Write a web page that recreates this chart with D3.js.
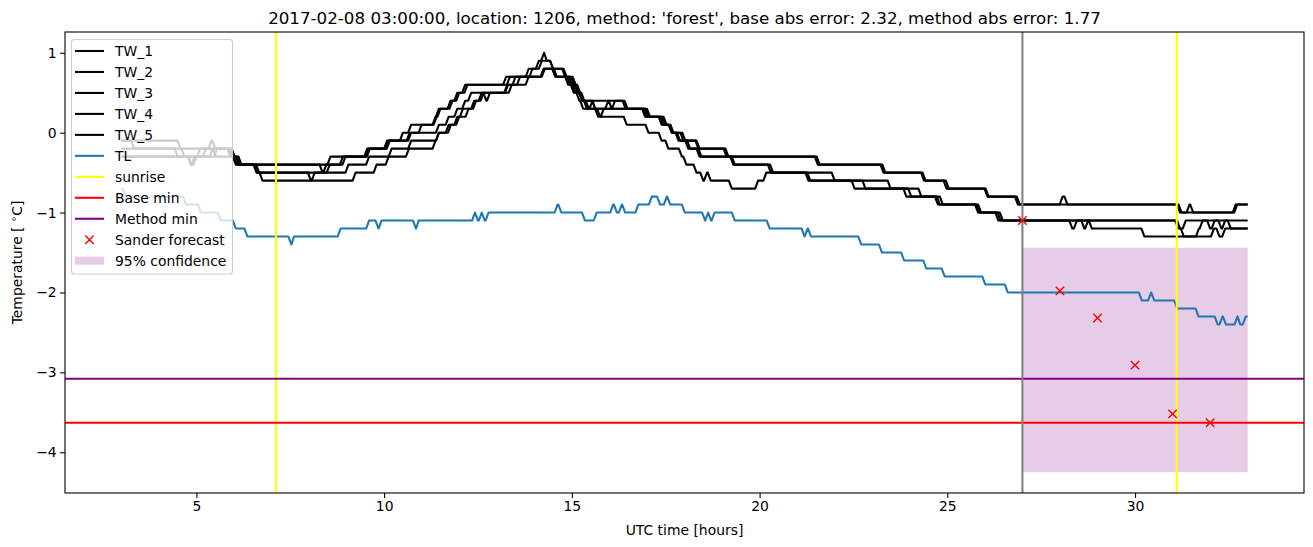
<!DOCTYPE html>
<html><head><meta charset="utf-8">
<script src="https://cdn.jsdelivr.net/npm/d3@7"></script>
<style>body{margin:0;background:#fff} svg{display:block} text{font-family:"DejaVu Sans",sans-serif;fill:#000}</style>
</head><body><svg id="c" width="1313" height="547"></svg>
<script>
// ---------------- data ----------------
const TITLE = "2017-02-08 03:00:00, location: 1206, method: 'forest', base abs error: 2.32, method abs error: 1.77";
const X_LABEL = "UTC time [hours]";
const xTicks = [5, 10, 15, 20, 25, 30];
const yTicks = [-4, -3, -2, -1, 0, 1];
const xDomain = [1.5, 34.5];
const yDomain = [-4.51, 1.26];

// change points [hour, value]; value holds until next change point
const TW_1 = [[3.0,-0.1],[4.58,-0.2],[5.4,-0.1],[5.5,-0.2],[5.95,-0.3],[6.08,-0.4],[8.36,-0.5],[8.46,-0.4],[8.57,-0.3],[9.59,-0.2],[10.08,-0.1],[10.5,0.0],[10.72,0.1],[11.37,0.2],[11.46,0.3],[11.77,0.4],[11.95,0.5],[12.16,0.6],[13.25,0.7],[13.85,0.8],[14.12,0.9],[14.26,1.0],[14.33,0.9],[14.5,0.8],[14.82,0.7],[15.05,0.6],[15.18,0.5],[15.27,0.4],[16.43,0.3],[17.04,0.2],[17.39,0.1],[17.66,0.0],[18.02,-0.1],[18.4,-0.2],[19.12,-0.3],[21.55,-0.4],[23.3,-0.5],[24.38,-0.6],[24.98,-0.7],[26.07,-0.8],[26.88,-0.9],[28.07,-0.8],[28.2,-0.9],[31.2,-1.0],[31.45,-0.9],[31.55,-1.0],[32.68,-0.9],[33.0,-0.9]];
const TW_2 = [[3.0,-0.1],[3.34,-0.2],[4.68,-0.3],[5.1,-0.2],[5.98,-0.3],[6.13,-0.4],[8.9,-0.3],[9.55,-0.2],[10.12,-0.1],[10.72,0.0],[11.0,0.1],[11.4,0.2],[11.5,0.3],[11.82,0.4],[12.0,0.5],[12.22,0.6],[13.35,0.7],[13.95,0.8],[14.2,0.9],[14.5,0.8],[14.86,0.7],[15.1,0.6],[15.22,0.5],[15.3,0.4],[15.62,0.3],[15.75,0.2],[15.85,0.3],[15.97,0.4],[16.06,0.3],[16.15,0.4],[16.48,0.3],[17.08,0.2],[17.43,0.1],[17.7,0.0],[17.97,-0.1],[18.37,-0.2],[19.17,-0.3],[21.6,-0.4],[23.35,-0.5],[24.42,-0.6],[25.04,-0.7],[26.1,-0.8],[26.93,-0.9],[31.24,-1.0],[32.72,-0.9],[33.0,-0.9]];
const TW_3 = [[3.0,-0.3],[4.87,-0.4],[5.0,-0.3],[5.25,-0.2],[5.9,-0.3],[6.05,-0.4],[6.62,-0.5],[8.05,-0.6],[8.15,-0.5],[8.55,-0.4],[8.97,-0.3],[9.62,-0.2],[10.15,-0.1],[10.68,0.0],[11.46,0.1],[11.72,0.2],[11.95,0.3],[12.16,0.4],[12.32,0.5],[13.3,0.6],[13.5,0.7],[14.25,0.8],[14.56,0.7],[14.95,0.6],[15.1,0.5],[15.3,0.4],[15.4,0.3],[16.95,0.2],[17.48,0.1],[17.66,0.0],[17.84,-0.1],[18.15,-0.2],[18.4,-0.3],[19.3,-0.4],[20.3,-0.5],[21.3,-0.6],[22.53,-0.7],[23.91,-0.8],[24.75,-0.9],[25.82,-1.0],[26.36,-1.1],[31.2,-1.2],[31.35,-1.1],[32.0,-1.2],[32.12,-1.1],[33.0,-1.1]];
const TW_4 = [[3.0,-0.2],[4.5,-0.3],[5.55,-0.2],[6.02,-0.3],[6.2,-0.4],[6.67,-0.5],[9.05,-0.4],[9.6,-0.3],[10.2,-0.2],[10.72,-0.1],[11.46,0.0],[11.78,0.1],[12.0,0.2],[12.25,0.3],[12.45,0.4],[12.6,0.5],[12.72,0.4],[12.82,0.5],[13.4,0.6],[13.62,0.7],[14.28,0.8],[14.6,0.7],[15.0,0.6],[15.15,0.5],[15.33,0.4],[15.45,0.3],[15.55,0.4],[15.62,0.3],[16.99,0.2],[17.52,0.1],[17.7,0.0],[17.88,-0.1],[18.1,-0.2],[18.45,-0.3],[19.34,-0.4],[20.36,-0.5],[21.35,-0.6],[22.82,-0.7],[24.04,-0.8],[24.8,-0.9],[25.86,-1.0],[26.42,-1.1],[28.33,-1.2],[28.45,-1.1],[31.15,-1.2],[31.3,-1.3],[31.7,-1.2],[31.8,-1.1],[32.3,-1.2],[32.4,-1.1],[32.55,-1.2],[33.0,-1.2]];
const TW_5 = [[3.0,-0.3],[4.85,-0.4],[4.95,-0.3],[5.43,-0.2],[5.52,-0.3],[6.15,-0.4],[6.6,-0.5],[6.76,-0.6],[9.24,-0.5],[9.8,-0.4],[10.12,-0.3],[10.66,-0.2],[11.37,-0.1],[11.46,0.0],[11.72,0.1],[11.95,0.2],[12.1,0.3],[12.4,0.4],[12.65,0.5],[13.28,0.6],[13.85,0.7],[14.25,0.8],[14.56,0.7],[14.9,0.6],[15.05,0.5],[15.2,0.4],[15.3,0.3],[15.7,0.2],[16.46,0.1],[17.04,0.0],[17.39,-0.1],[17.57,-0.2],[17.93,-0.3],[18.05,-0.4],[18.32,-0.5],[18.5,-0.6],[18.6,-0.5],[18.7,-0.6],[19.26,-0.7],[19.96,-0.6],[20.18,-0.5],[22.0,-0.6],[23.49,-0.7],[24.31,-0.8],[24.88,-0.9],[25.9,-1.0],[26.48,-1.1],[28.65,-1.2],[28.75,-1.1],[28.85,-1.2],[30.25,-1.3],[32.1,-1.2],[32.25,-1.3],[32.4,-1.2],[33.0,-1.2]];
const TL = [[3.0,-0.7],[3.12,-0.8],[4.72,-0.9],[5.12,-1.0],[5.65,-1.1],[6.05,-1.2],[6.36,-1.3],[7.53,-1.4],[7.6,-1.3],[8.84,-1.2],[9.6,-1.1],[9.85,-1.2],[9.93,-1.1],[10.85,-1.2],[10.92,-1.1],[12.42,-1.0],[12.5,-1.1],[12.6,-1.0],[12.68,-1.1],[12.78,-1.0],[14.62,-0.9],[14.72,-1.0],[15.35,-1.1],[15.66,-1.0],[16.1,-0.9],[16.2,-1.0],[16.33,-0.9],[16.42,-1.0],[16.77,-0.9],[17.13,-0.8],[17.35,-0.9],[17.53,-0.8],[17.62,-0.9],[18.01,-1.0],[18.55,-1.1],[18.63,-1.0],[18.71,-1.1],[18.8,-1.0],[19.34,-1.1],[20.27,-1.2],[21.2,-1.3],[21.28,-1.2],[21.37,-1.3],[22.71,-1.4],[23.26,-1.5],[23.85,-1.6],[24.44,-1.7],[24.93,-1.8],[26.01,-1.9],[26.61,-2.0],[30.18,-2.1],[30.43,-2.0],[30.51,-2.1],[31.12,-2.2],[31.69,-2.3],[32.2,-2.4],[32.33,-2.3],[32.42,-2.4],[32.73,-2.3],[32.8,-2.4],[32.95,-2.3],[33.0,-2.3]];

const sunriseHours = [7.12, 31.11];
const forecastStartHour = 27;
const baseMin = -3.63;
const methodMin = -3.08;
const forecastHours = [27, 28, 29, 30, 31, 32];
const forecastValues = [-1.1, -1.98, -2.32, -2.91, -3.52, -3.63];
const confHours = [27, 33];
const confLow = -4.25, confHigh = -1.44;

const legendLabels = ["TW_1","TW_2","TW_3","TW_4","TW_5","TL","sunrise","Base min","Method min","Sander forecast","95% confidence"];

// ---------------- drawing ----------------
const svg = d3.select("#c");
const L = 65, R = 1304, T = 32, B = 493;
const x = d3.scaleLinear(xDomain, [L, R]);
const y = d3.scaleLinear(yDomain, [B, T]);
const LW = 2.08;

// step curve with a short ramp at each change (as sampled data looks)
const RAMP = 3;
function RampStep(ctx){ this._context = ctx; }
RampStep.prototype = {
  areaStart(){}, areaEnd(){},
  lineStart(){ this._p = 0; },
  lineEnd(){},
  point(px, py){
    if (this._p === 0) { this._context.moveTo(px, py); this._p = 1; }
    else {
      const xr = Math.max(this._x, px - RAMP);
      this._context.lineTo(xr, this._y);
      this._context.lineTo(px, py);
    }
    this._x = px; this._y = py;
  }
};
const curveRamp = ctx => new RampStep(ctx);
const line = d3.line().x(d => x(d[0])).y(d => y(d[1])).curve(curveRamp);

svg.append("defs").append("clipPath").attr("id","clip")
  .append("rect").attr("x", L).attr("y", T).attr("width", R - L).attr("height", B - T);
const plot = svg.append("g").attr("clip-path", "url(#clip)");

// confidence (patch, below lines)
plot.append("rect")
  .attr("x", x(confHours[0])).attr("width", x(confHours[1]) - x(confHours[0]))
  .attr("y", y(confHigh)).attr("height", y(confLow) - y(confHigh))
  .attr("fill", "purple").attr("fill-opacity", 0.2);

const twSeries = [TW_1, TW_2, TW_3, TW_4, TW_5];
twSeries.forEach(s => plot.append("path").attr("d", line(s))
  .attr("fill","none").attr("stroke","#000").attr("stroke-width", LW).attr("stroke-linejoin","round"));
plot.append("path").attr("d", line(TL))
  .attr("fill","none").attr("stroke","#1f77b4").attr("stroke-width", LW).attr("stroke-linejoin","round");

sunriseHours.forEach(h => plot.append("line")
  .attr("x1", x(h)).attr("x2", x(h)).attr("y1", T).attr("y2", B)
  .attr("stroke", "yellow").attr("stroke-width", LW));
plot.append("line").attr("x1", L).attr("x2", R).attr("y1", y(baseMin)).attr("y2", y(baseMin))
  .attr("stroke", "red").attr("stroke-width", LW);
plot.append("line").attr("x1", L).attr("x2", R).attr("y1", y(methodMin)).attr("y2", y(methodMin))
  .attr("stroke", "purple").attr("stroke-width", LW);
plot.append("line").attr("x1", x(forecastStartHour)).attr("x2", x(forecastStartHour)).attr("y1", T).attr("y2", B)
  .attr("stroke", "gray").attr("stroke-width", LW);

const MS = 4.2;
function cross(g, cx, cy){
  g.append("path").attr("d", `M${cx-MS},${cy-MS}L${cx+MS},${cy+MS}M${cx-MS},${cy+MS}L${cx+MS},${cy-MS}`)
    .attr("stroke","red").attr("stroke-width",1.4).attr("fill","none");
}
forecastHours.forEach((h, i) => cross(plot, x(h), y(forecastValues[i])));

// axes
const fs = 13.9;
const intFmt = d3.format("d");
const xAxis = svg.append("g").attr("transform", `translate(0,${B})`)
  .call(d3.axisBottom(x).tickValues(xTicks).tickFormat(intFmt).tickSize(4.9).tickPadding(3.5).tickSizeOuter(0));
const yAxis = svg.append("g").attr("transform", `translate(${L},0)`)
  .call(d3.axisLeft(y).tickValues(yTicks).tickFormat(intFmt).tickSize(4.9).tickPadding(3.5).tickSizeOuter(0));
[xAxis, yAxis].forEach(a => {
  a.select(".domain").remove();
  a.selectAll(".tick line").attr("stroke", "#000").attr("stroke-width", 1.1);
  a.selectAll(".tick text").attr("font-size", fs).attr("font-family", "DejaVu Sans").attr("fill","#000");
});
svg.append("rect").attr("x", L).attr("y", T).attr("width", R - L).attr("height", B - T)
  .attr("fill", "none").attr("stroke", "#000").attr("stroke-width", 1.1);

// labels
svg.append("text").attr("x", (L + R) / 2).attr("y", 24).attr("text-anchor", "middle")
  .attr("font-size", 16.7).text(TITLE);
svg.append("text").attr("x", (L + R) / 2).attr("y", 535).attr("text-anchor", "middle")
  .attr("font-size", fs).text(X_LABEL);
const yl = svg.append("text").attr("transform", `translate(22,${(T + B) / 2}) rotate(-90)`)
  .attr("text-anchor", "middle").attr("font-size", fs);
yl.append("tspan").text("Temperature [ ");
yl.append("tspan").attr("font-size", 10).attr("dy", -5).text("∘");
yl.append("tspan").attr("dy", 5).text("C]");

// legend
const lg = svg.append("g");
lg.append("rect").attr("x", 71.5).attr("y", 39.5).attr("width", 161).attr("height", 234.5)
  .attr("rx", 3).attr("fill", "#fff").attr("fill-opacity", 0.8).attr("stroke", "#cccccc").attr("stroke-width", 1.1);
const legendColors = ["#000","#000","#000","#000","#000","#1f77b4","yellow","red","purple"];
legendLabels.forEach((lab, i) => {
  const cy = 51 + i * 20.97;
  if (i < 9) {
    lg.append("line").attr("x1", 75).attr("x2", 104).attr("y1", cy).attr("y2", cy)
      .attr("stroke", legendColors[i]).attr("stroke-width", LW);
  } else if (i === 9) {
    cross(lg, 89.5, cy);
  } else {
    lg.append("rect").attr("x", 75).attr("y", cy - 4).attr("width", 29).attr("height", 8)
      .attr("fill", "purple").attr("fill-opacity", 0.2);
  }
  lg.append("text").attr("x", 115).attr("y", cy).attr("dominant-baseline", "central")
    .attr("font-size", fs).text(lab);
});
</script></body></html>
